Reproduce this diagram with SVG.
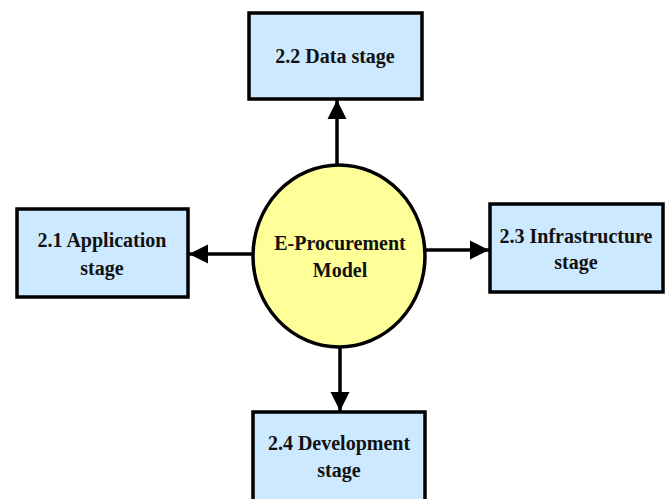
<svg xmlns="http://www.w3.org/2000/svg" width="667" height="499" viewBox="0 0 667 499">
<style>
.box{fill:#cce9ff;stroke:#000;stroke-width:3.5}
.oval{fill:#ffff99;stroke:#000;stroke-width:3.5}
.t{font-family:"Liberation Serif","Times New Roman",serif;font-weight:bold;font-size:20px;fill:#111;text-anchor:middle}
.c{stroke:#000;stroke-width:3.5;fill:none}
</style>
<defs>
<marker id="ah" viewBox="0 0 10 10" refX="10" refY="5" markerWidth="5.5" markerHeight="5.5" markerUnits="strokeWidth" orient="auto">
<path d="M0,0 L10,5 L0,10 z" fill="#000"/>
</marker>
</defs>
<rect width="667" height="499" fill="#fff"/>
<g id="connectors">
<line class="c" x1="337" y1="165" x2="337" y2="100" marker-end="url(#ah)"/>
<line class="c" x1="254" y1="254" x2="189" y2="254" marker-end="url(#ah)"/>
<line class="c" x1="425" y1="250" x2="489" y2="250" marker-end="url(#ah)"/>
<line class="c" x1="340" y1="347" x2="340" y2="411" marker-end="url(#ah)"/>
</g>
<g id="data">
<rect class="box" x="249" y="13" width="173" height="86"/>
<text class="t" x="335" y="63">2.2 Data stage</text>
</g>
<g id="application">
<rect class="box" x="17" y="209" width="171" height="88"/>
<text class="t" x="102" y="247">2.1 Application</text>
<text class="t" x="102" y="275">stage</text>
</g>
<g id="model">
<ellipse class="oval" cx="339" cy="256" rx="86" ry="91"/>
<text class="t" x="340" y="250">E-Procurement</text>
<text class="t" x="340" y="277">Model</text>
</g>
<g id="infrastructure">
<rect class="box" x="490" y="204" width="173" height="88"/>
<text class="t" x="576" y="243">2.3 Infrastructure</text>
<text class="t" x="576" y="269">stage</text>
</g>
<g id="development">
<rect class="box" x="253" y="412" width="172" height="95"/>
<text class="t" x="339" y="450">2.4 Development</text>
<text class="t" x="339" y="477">stage</text>
</g>
</svg>
